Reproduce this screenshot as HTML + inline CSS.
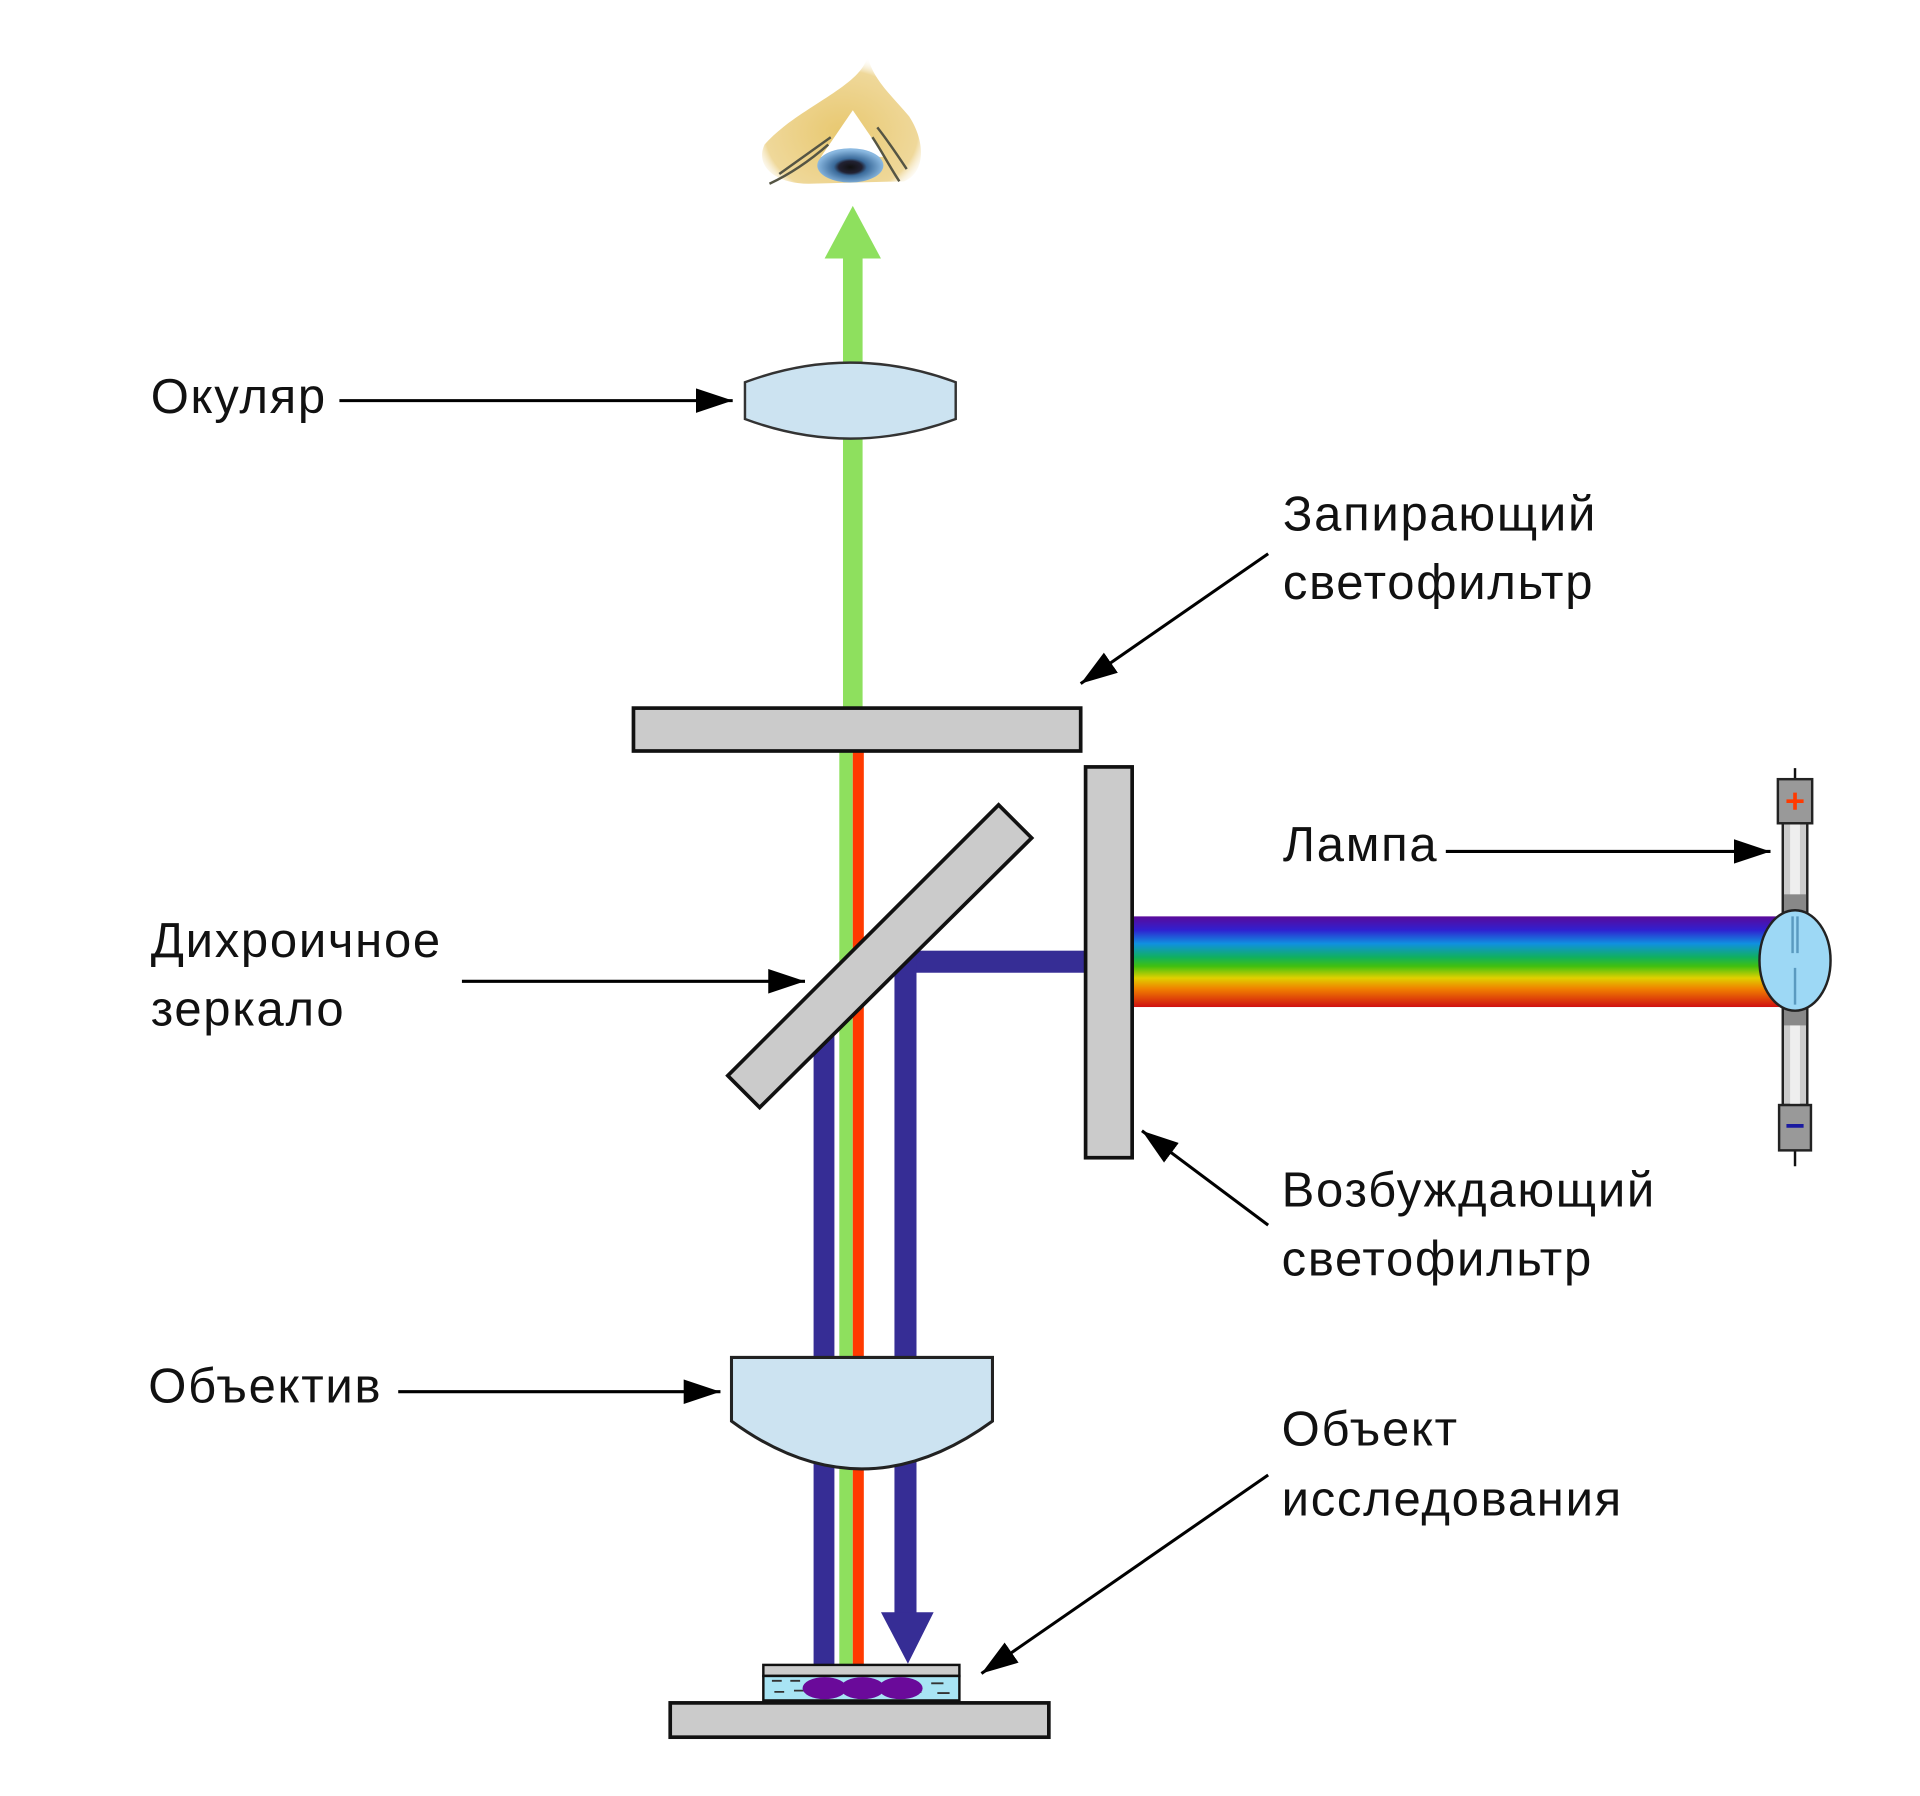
<!DOCTYPE html>
<html><head><meta charset="utf-8"><style>
html,body{margin:0;padding:0;background:#fff;}
svg{display:block;}
text{font-family:"Liberation Sans",sans-serif;font-size:40px;fill:#111;letter-spacing:1.4px;}
</style></head><body>
<svg width="1920" height="1796" viewBox="0 0 1567 1466" preserveAspectRatio="none" xmlns="http://www.w3.org/2000/svg">
<defs>
<marker id="ah" viewBox="0 0 30 20" refX="30" refY="10" markerWidth="30" markerHeight="20" markerUnits="userSpaceOnUse" orient="auto">
<path d="M0,0 L30,10 L0,20 Z" fill="#000"/>
</marker>
<linearGradient id="rb" x1="0" y1="0" x2="0" y2="1">
<stop offset="0" stop-color="#5a0a9a"/>
<stop offset="0.15" stop-color="#3020d0"/>
<stop offset="0.3" stop-color="#1090e0"/>
<stop offset="0.45" stop-color="#10b060"/>
<stop offset="0.55" stop-color="#40c010"/>
<stop offset="0.68" stop-color="#e0d000"/>
<stop offset="0.8" stop-color="#f08000"/>
<stop offset="1" stop-color="#d01010"/>
</linearGradient>
<radialGradient id="skin" cx="0.5" cy="0.6" r="0.6">
<stop offset="0" stop-color="#e8c870"/>
<stop offset="0.8" stop-color="#efd89a"/>
<stop offset="1" stop-color="#fff" stop-opacity="0"/>
</radialGradient>
<radialGradient id="iris" cx="0.5" cy="0.55" r="0.5">
<stop offset="0" stop-color="#111"/>
<stop offset="0.35" stop-color="#223"/>
<stop offset="0.5" stop-color="#3a6a9a"/>
<stop offset="1" stop-color="#8ab8e0"/>
</radialGradient>
</defs>

<!-- eye -->
<path d="M708,45 C705,70 650,88 624,118 C616,135 632,150 660,150 L738,148 C756,140 755,115 742,95 C728,78 712,65 708,45 Z" fill="url(#skin)"/>
<path d="M696,90 L670,128 L722,128 Z" fill="#fff"/>
<ellipse cx="694" cy="135" rx="27" ry="14" fill="url(#iris)"/>
<path d="M628,150 C645,142 660,132 676,118 M636,142 C650,132 664,122 678,112 M734,148 C726,136 720,124 712,112 M740,138 C732,126 724,114 716,104" stroke="#554" stroke-width="2" fill="none"/>

<!-- green arrow up -->
<rect x="688" y="205" width="16" height="373" fill="#8ee05e"/>
<path d="M673,211 L696,168 L719,211 Z" fill="#8ee05e"/>

<!-- eyepiece -->
<path d="M608,312 Q694,280 780,312 L780,342 Q694,374 608,342 Z" fill="#cce3f1" stroke="#333" stroke-width="2"/>

<!-- beams below filter -->
<rect x="685" y="613" width="11" height="747" fill="#8ee05e"/>
<rect x="696" y="613" width="9" height="747" fill="#ff3a00"/>
<rect x="664" y="840" width="17" height="520" fill="#362d95"/>
<rect x="730" y="776" width="158" height="18" fill="#362d95"/>
<rect x="730" y="776" width="18" height="544" fill="#362d95"/>
<path d="M719,1316 L762,1316 L741,1358 Z" fill="#362d95"/>

<!-- blocking filter -->
<rect x="517" y="578" width="365" height="35" fill="#cbcbcb" stroke="#111" stroke-width="3"/>

<!-- dichroic mirror -->
<path d="M594,878 L620,904 L842,684 L815,657 Z" fill="#cbcbcb" stroke="#111" stroke-width="3"/>

<!-- rainbow -->
<rect x="922" y="748" width="530" height="74" fill="url(#rb)"/>

<!-- excitation filter -->
<rect x="886" y="626" width="38" height="319" fill="#cbcbcb" stroke="#111" stroke-width="3"/>

<!-- lamp -->
<line x1="1465" y1="627" x2="1465" y2="952" stroke="#111" stroke-width="2"/>
<rect x="1455" y="672" width="20" height="230" fill="#ccc" stroke="#222" stroke-width="2"/>
<rect x="1461" y="672" width="8" height="230" fill="#eee"/>
<rect x="1456" y="730" width="18" height="15" fill="#888"/>
<rect x="1456" y="822" width="18" height="15" fill="#888"/>
<rect x="1451" y="636" width="28" height="36" fill="#999" stroke="#222" stroke-width="2"/>
<path d="M1458,654 H1472 M1465,647 V661" stroke="#ff3a00" stroke-width="3"/>
<rect x="1452" y="902" width="26" height="37" fill="#999" stroke="#222" stroke-width="2"/>
<path d="M1458,919 H1472" stroke="#1a1aa0" stroke-width="3"/>
<ellipse cx="1465" cy="784" rx="29" ry="41" fill="#9dd8f5" stroke="#222" stroke-width="2"/>
<path d="M1463,748 V778 M1467,748 V778 M1465,790 V820" stroke="#5a9ac0" stroke-width="2"/>

<!-- objective -->
<path d="M597,1108 H810 V1160 Q703,1238 597,1160 Z" fill="#cce3f1" stroke="#222" stroke-width="2.5"/>

<!-- slide & sample -->
<rect x="623" y="1359" width="160" height="9" fill="#ccc" stroke="#111" stroke-width="2"/>
<rect x="623" y="1368" width="160" height="20" fill="#a8e4f4" stroke="#111" stroke-width="2"/>
<path d="M630,1372 h8 M645,1372 h8 M700,1372 h10 M760,1374 h10 M632,1381 h8 M648,1380 h8 M740,1381 h12 M765,1382 h10 M700,1386 h8" stroke="#333" stroke-width="1.5"/>
<ellipse cx="673" cy="1378" rx="18" ry="9" fill="#6a0a9a"/>
<ellipse cx="704" cy="1378" rx="18" ry="9" fill="#6a0a9a"/>
<ellipse cx="735" cy="1378" rx="18" ry="9" fill="#6a0a9a"/>
<rect x="547" y="1390" width="309" height="28" fill="#cbcbcb" stroke="#111" stroke-width="3"/>

<!-- labels & arrows -->
<g stroke="#000" stroke-width="2.5" fill="none">
<line x1="277" y1="327" x2="598" y2="327" marker-end="url(#ah)"/>
<line x1="1035" y1="452" x2="882" y2="558" marker-end="url(#ah)"/>
<line x1="1180" y1="695" x2="1445" y2="695" marker-end="url(#ah)"/>
<line x1="377" y1="801" x2="657" y2="801" marker-end="url(#ah)"/>
<line x1="1035" y1="1000" x2="932" y2="923" marker-end="url(#ah)"/>
<line x1="325" y1="1136" x2="588" y2="1136" marker-end="url(#ah)"/>
<line x1="1035" y1="1204" x2="801" y2="1366" marker-end="url(#ah)"/>
</g>
<text x="123" y="337">Окуляр</text>
<text x="1047" y="433">Запирающий</text>
<text x="1047" y="489">светофильтр</text>
<text x="1047" y="703">Лампа</text>
<text x="123" y="781">Дихроичное</text>
<text x="123" y="837">зеркало</text>
<text x="1046" y="985">Возбуждающий</text>
<text x="1046" y="1041">светофильтр</text>
<text x="121" y="1145">Объектив</text>
<text x="1046" y="1180">Объект</text>
<text x="1046" y="1237">исследования</text>
</svg>
</body></html>
